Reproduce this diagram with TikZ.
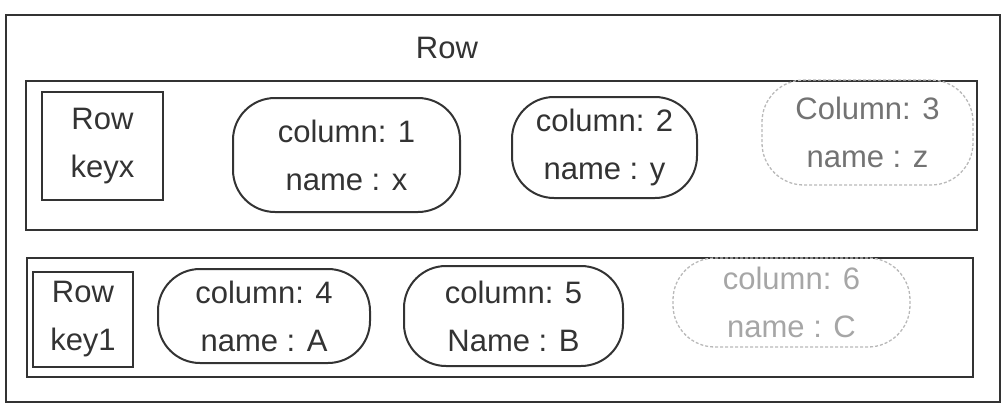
\documentclass[tikz,border=0pt]{standalone}
\usepackage{fontspec}
\setmainfont{Liberation Sans}
\usetikzlibrary{positioning}
\definecolor{pencil}{HTML}{333333}

\begin{document}
\begin{tikzpicture}[x=1pt, y=-1pt, line width=2pt, draw=pencil, text=pencil,
    hand/.style={font=\fontsize{31}{48}\selectfont, align=center, inner sep=0pt},
    frame/.style={draw, minimum width=#1},
    keybox/.style={draw, hand, minimum width=#1},
    colbox/.style={draw, hand, rounded corners=42pt, minimum width=#1},
    faint/.style={draw=gray!55, densely dashed, line width=1.3pt}]
    \useasboundingbox (0,0) rectangle (1002,407);

    % outer row and its title
    \node[frame=994pt, minimum height=387pt] (outer) at (503,208.5) {};
    \node[hand] (title) at (447,48) {Row};

    % first row
    \node[frame=951pt, minimum height=149pt] (rowa) at (501.5,155.5) {};
    \node[keybox=121pt, minimum height=108pt] (keya) at (102.5,146) {Row\\keyx};
    \node[colbox=227pt, minimum height=114pt] (cola) at (346.5,155) {column: 1\\name : x};
    \node[colbox=185pt, minimum height=101pt] (colb) at (604.5,147.5) {column: 2\\name : y};
    \node[colbox=211pt, minimum height=105pt, faint, text=gray!90!black] (colc) at (867.5,132.5) {Column: 3\\name : z};

    % second row
    \node[frame=946pt, minimum height=119pt] (rowb) at (500,317.5) {};
    \node[keybox=100pt, minimum height=95pt] (keyb) at (83,319.5) {Row\\key1};
    \node[colbox=212pt, minimum height=94pt] (cold) at (264,316) {column: 4\\name : A};
    \node[colbox=219pt, minimum height=100pt] (cole) at (513.5,316) {column: 5\\Name : B};
    \node[colbox=237pt, minimum height=89pt, faint, text=gray!70] (colf) at (791.5,302.5) {column: 6\\name : C};
\end{tikzpicture}
\end{document}
